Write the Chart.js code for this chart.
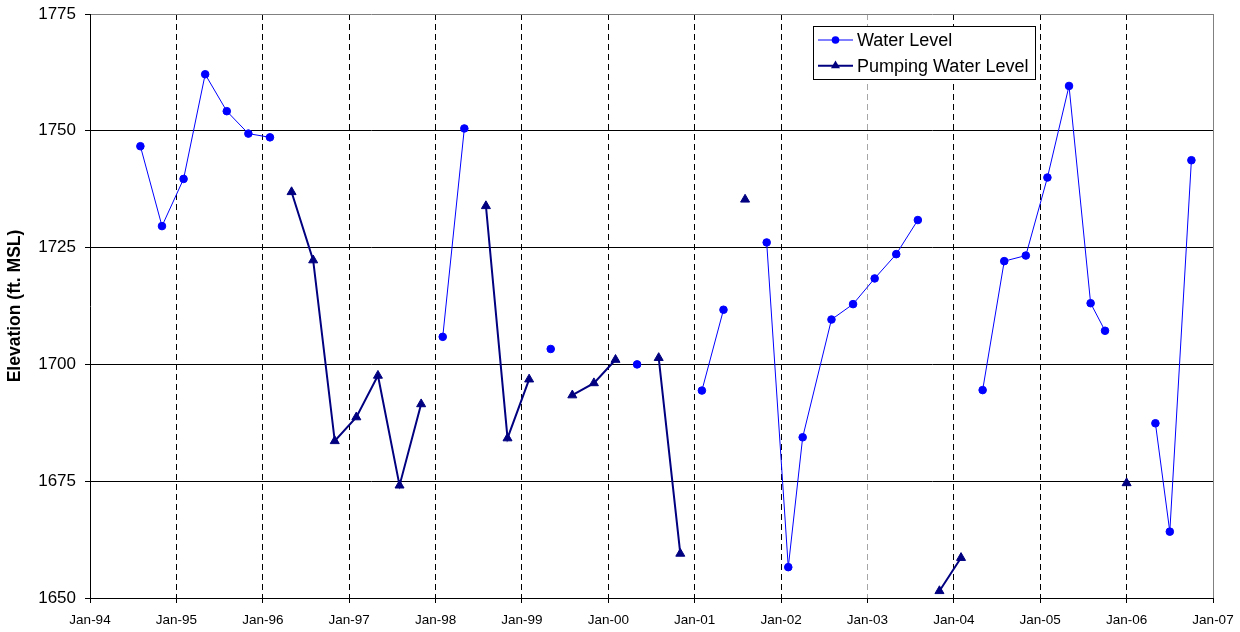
<!DOCTYPE html>
<html>
<head>
<meta charset="utf-8">
<title>Elevation (ft. MSL)</title>
<script src="https://cdn.jsdelivr.net/npm/chart.js@4/dist/chart.umd.min.js"></script>
<style>
  html, body { margin: 0; padding: 0; background: #ffffff; }
  #wrap { width: 1240px; height: 632px; }
</style>
</head>
<body>
<div id="wrap"><canvas id="chart" width="1240" height="632"></canvas></div>
<script>
// Sampling dates (YYYY-MM); null breaks the line between sampling runs.
const waterDates = ['1994-08','1994-11','1995-02','1995-05','1995-08','1995-11','1996-02', null,
  '1998-02','1998-05', null, '1999-05', null, '2000-05', null, '2001-02','2001-05', null,
  '2001-11','2002-02','2002-04','2002-08','2002-11','2003-02','2003-05','2003-08', null,
  '2004-05','2004-08','2004-11','2005-02','2005-05','2005-08','2005-10', null,
  '2006-05','2006-07','2006-10'];
const waterLevels = [1746.7,1729.6,1739.7,1762.1,1754.2,1749.4,1748.6, null,
  1705.9,1750.5, null, 1703.3, null, 1700.0, null, 1694.4,1711.7, null,
  1726.1,1656.6,1684.4,1709.6,1712.9,1718.4,1723.6,1730.9, null,
  1694.5,1722.1,1723.3,1740.0,1759.6,1713.1,1707.2, null,
  1687.4,1664.2,1743.7];

const pumpDates = ['1996-05','1996-08','1996-11','1997-02','1997-05','1997-08','1997-11', null,
  '1998-08','1998-11','1999-02', null, '1999-08','1999-11','2000-02', null,
  '2000-08','2000-11', null, '2001-08', null, '2003-11','2004-02', null, '2006-01'];
const pumpLevels = [1736.9,1722.3,1683.6,1688.7,1697.6,1674.1,1691.5, null,
  1733.9,1684.2,1696.8, null, 1693.4,1696.0,1701.0, null,
  1701.4,1659.5, null, 1735.3, null, 1651.5,1658.6, null, 1674.6];

const seriesNames = ['Water Level', 'Pumping Water Level'];
const yTicks = [1650, 1675, 1700, 1725, 1750, 1775];
const xYears = [1994, 2007];

const FONT = "'Liberation Sans', Arial, Helvetica, sans-serif";

// 'YYYY-MM' -> fractional year, so the x axis can be a plain linear scale
function toYear(d) {
  if (d === null) return NaN;
  const [y, m] = d.split('-').map(Number);
  return y + (m - 1) / 12;
}
function toPoints(dates, values) {
  return dates.map((d, i) => ({ x: toYear(d), y: values[i] }));
}

// Boxed legend sitting inside the plot area, upper right
const boxLegend = {
  id: 'boxLegend',
  afterDatasetsDraw(chart) {
    const { ctx, chartArea } = chart;
    const o = chart.options.plugins.boxLegend;
    const left = chartArea.left + o.left;
    const top = chartArea.top + o.top;
    ctx.save();
    ctx.fillStyle = '#ffffff';
    ctx.fillRect(left, top, o.width, o.height);
    ctx.strokeStyle = '#000000';
    ctx.lineWidth = 1;
    ctx.strokeRect(Math.round(left) + 0.5, Math.round(top) + 0.5, o.width, o.height);
    chart.data.datasets.forEach((ds, i) => {
      const y = top + o.firstRow + i * o.rowGap;
      const x0 = left + 5, x1 = left + 40, cx = (x0 + x1) / 2;
      ctx.strokeStyle = ds.borderColor;
      ctx.lineWidth = ds.borderWidth;
      ctx.beginPath();
      ctx.moveTo(x0, y);
      ctx.lineTo(x1, y);
      ctx.stroke();
      ctx.fillStyle = ds.pointBackgroundColor;
      ctx.beginPath();
      if (ds.pointStyle === 'circle') {
        ctx.arc(cx, y, ds.pointRadius, 0, Math.PI * 2);
      } else {
        const r = ds.pointRadius;
        ctx.moveTo(cx, y - r);
        ctx.lineTo(cx + r * Math.sin(Math.PI * 2 / 3), y + r / 2);
        ctx.lineTo(cx - r * Math.sin(Math.PI * 2 / 3), y + r / 2);
        ctx.closePath();
      }
      ctx.fill();
      ctx.fillStyle = '#000000';
      ctx.font = o.fontSize + 'px ' + FONT;
      ctx.textBaseline = 'middle';
      ctx.textAlign = 'left';
      ctx.fillText(ds.label, left + 44, y + 1);
    });
    ctx.restore();
  }
};

new Chart(document.getElementById('chart'), {
  type: 'line',
  data: {
    datasets: [
      {
        label: seriesNames[0],
        data: toPoints(waterDates, waterLevels),
        borderColor: '#0000ff',
        backgroundColor: '#0000ff',
        pointBackgroundColor: '#0000ff',
        pointBorderColor: '#0000ff',
        borderWidth: 1,
        pointStyle: 'circle',
        pointRadius: 3.8,
        pointBorderWidth: 1,
        spanGaps: false,
        tension: 0
      },
      {
        label: seriesNames[1],
        data: toPoints(pumpDates, pumpLevels),
        borderColor: '#000080',
        backgroundColor: '#000080',
        pointBackgroundColor: '#000080',
        pointBorderColor: '#000080',
        borderWidth: 2,
        pointStyle: 'triangle',
        pointRadius: 5.2,
        pointBorderWidth: 1,
        spanGaps: false,
        tension: 0
      }
    ]
  },
  options: {
    responsive: false,
    animation: false,
    events: [],
    layout: { padding: { top: 14, right: 27, left: 0, bottom: 0 } },
    plugins: {
      legend: { display: false },
      tooltip: { enabled: false },
      boxLegend: { left: 723, top: 12, width: 222, height: 53, firstRow: 14, rowGap: 25.7, fontSize: 18 }
    },
    scales: {
      x: {
        type: 'linear',
        min: xYears[0],
        max: xYears[1],
        afterFit(scale) {
          scale.height = 34;
          scale.paddingLeft = 0;
          scale.paddingRight = 0;
        },
        afterBuildTicks(scale) {
          const t = [];
          for (let y = xYears[0]; y <= xYears[1]; y++) t.push({ value: y });
          scale.ticks = t;
        },
        ticks: {
          autoSkip: false,
          maxRotation: 0,
          padding: 9,
          color: '#000000',
          font: { family: FONT, size: 13.5 },
          callback: (v) => 'Jan-' + String(v % 100).padStart(2, '0')
        },
        grid: {
          lineWidth: 1,
          tickLength: 5,
          tickColor: '#000000',
          color: (c) => {
            const v = c.tick ? c.tick.value : null;
            if (v === xYears[0]) return 'rgba(0,0,0,0)';
            if (v === xYears[1]) return '#808080';
            if (v === 2003) return '#a6a6a6';
            return '#000000';
          }
        },
        border: {
          display: true,
          color: '#000000',
          width: 1,
          dash: (c) => (c.tick && c.tick.value !== xYears[1]) ? [6, 4] : []
        }
      },
      y: {
        min: yTicks[0],
        max: yTicks[yTicks.length - 1],
        afterFit(scale) {
          scale.width = 90;
          scale.paddingTop = 0;
          scale.paddingBottom = 0;
        },
        afterBuildTicks(scale) { scale.ticks = yTicks.map(v => ({ value: v })); },
        ticks: {
          padding: 9,
          color: '#000000',
          font: { family: FONT, size: 17 },
          callback: (v) => String(v)
        },
        title: {
          display: true,
          text: 'Elevation (ft. MSL)',
          color: '#000000',
          font: { family: FONT, size: 17.5, weight: 'bold' },
          padding: { top: 5, bottom: 0 }
        },
        grid: {
          lineWidth: 1,
          tickLength: 5,
          tickColor: '#000000',
          color: (c) => (c.tick && c.tick.value === yTicks[yTicks.length - 1]) ? '#808080' : '#000000'
        },
        border: { display: true, color: '#000000', width: 1 }
      }
    }
  },
  plugins: [boxLegend]
});
</script>
</body>
</html>
